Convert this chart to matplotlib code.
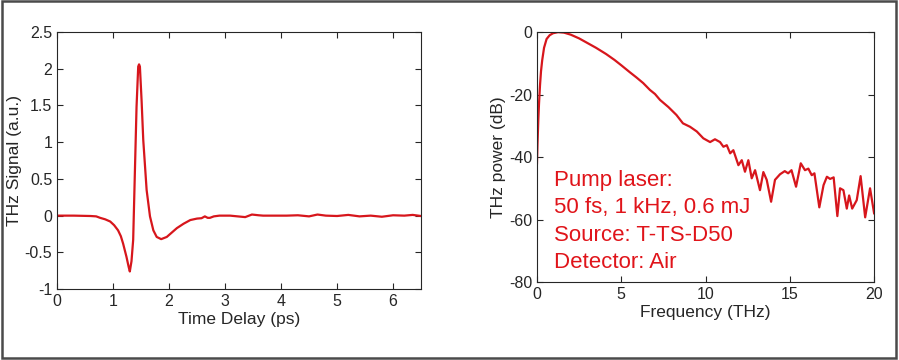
import matplotlib.pyplot as plt
from matplotlib.patches import Rectangle

plt.rcParams['font.family'] = ['Liberation Sans', 'DejaVu Sans']
plt.rcParams['axes.unicode_minus'] = False

# time-domain waveform
time_ps = [0, 0.3, 0.6, 0.7, 0.77, 0.86, 0.95, 1.02, 1.09, 1.14, 1.18, 1.24,
           1.28, 1.30, 1.33, 1.36, 1.39, 1.42, 1.45, 1.465, 1.48, 1.51, 1.54,
           1.60, 1.66, 1.72, 1.78, 1.86, 1.96, 2.05, 2.14, 2.26, 2.38, 2.5,
           2.58, 2.64, 2.69, 2.73, 2.8, 2.9, 3.09, 3.36, 3.48, 3.6, 3.68, 3.92,
           4.1, 4.3, 4.5, 4.65, 4.8, 5.0, 5.2, 5.4, 5.6, 5.8, 6.0, 6.2, 6.35, 6.5]
signal = [0, 0, -0.005, -0.01, -0.03, -0.05, -0.08, -0.13, -0.2, -0.28, -0.38,
          -0.56, -0.7, -0.76, -0.62, -0.33, 0.58, 1.48, 2.03, 2.06, 2.03, 1.57,
          1.03, 0.35, -0.01, -0.2, -0.29, -0.32, -0.29, -0.23, -0.17, -0.11,
          -0.06, -0.04, -0.035, -0.01, -0.03, -0.03, -0.01, 0, 0, -0.02, 0.015,
          0.005, 0, 0, 0, 0.005, -0.01, 0.015, 0, -0.005, 0.01, -0.01, 0,
          -0.015, 0.005, 0, 0.01, -0.005]

# spectrum
freq_thz = [0, 0.03, 0.08, 0.12, 0.18, 0.24, 0.31, 0.42, 0.57, 0.75, 0.95, 1.25,
            1.6, 2.0, 2.5, 3.0, 3.5, 4.1, 4.6, 5.0, 5.5, 5.9, 6.3, 6.7, 7.0, 7.3,
            7.8, 8.27, 8.66, 9.08, 9.48, 9.87, 10.07, 10.27, 10.56, 10.86, 11.06,
            11.26, 11.46, 11.65, 11.95, 12.15, 12.34, 12.54, 12.74, 12.94, 13.23,
            13.43, 13.63, 13.89, 14.12, 14.42, 14.7, 14.9, 15.1, 15.37, 15.65,
            15.9, 16.1, 16.3, 16.46, 16.75, 17.0, 17.2, 17.39, 17.6, 17.82, 17.98,
            18.18, 18.38, 18.52, 18.7, 18.97, 19.2, 19.47, 19.76, 20.0]
power_db = [-42, -36, -28, -23, -17, -12.5, -9, -5, -2.2, -1.0, -0.35, 0,
            -0.15, -0.8, -2.0, -3.5, -5.0, -7.0, -8.9, -10.6, -12.8, -14.5, -16.3,
            -18.5, -19.8, -21.7, -24, -26.5, -29.2, -30.3, -31.8, -34, -34.6,
            -35.2, -34.3, -35.2, -36.7, -36.2, -38.8, -37.8, -42.6, -41, -44.7,
            -41, -46.8, -44.2, -50.6, -44.8, -47.3, -54.3, -47.3, -45.5, -44.5,
            -45.2, -44.2, -49.5, -42, -44.2, -43.7, -45.8, -45.2, -56.1, -49,
            -46.3, -47, -46.5, -58.9, -50, -50.6, -56.5, -52.3, -56.5, -53.8,
            -46.1, -59.3, -50, -58]

notes = ['Pump laser:', '50 fs, 1 kHz, 0.6 mJ', 'Source: T-TS-D50', 'Detector: Air']

line_red = '#d7161c'
text_red = '#e0141a'
axis_gray = '#262626'

fig = plt.figure(figsize=(8.99, 3.6), dpi=100)
fig.patches.append(Rectangle((0.002, 0.006), 0.995, 0.99, transform=fig.transFigure,
                             fill=False, edgecolor='#4a4a4a', linewidth=1.8))

ax1 = fig.add_axes([0.0634, 0.197, 0.405, 0.714])
ax2 = fig.add_axes([0.5973, 0.2167, 0.375, 0.694])


def style(ax):
    for s in ax.spines.values():
        s.set_color(axis_gray)
        s.set_linewidth(0.8)
    ax.tick_params(direction='in', top=True, right=True, length=4, width=0.8,
                   colors=axis_gray, labelsize=11.5, labelcolor=axis_gray)


ax1.plot(time_ps, signal, color=line_red, linewidth=1.6)
ax1.set_xlim(0, 6.5)
ax1.set_ylim(-1, 2.5)
ax1.set_xticks([0, 1, 2, 3, 4, 5, 6])
ax1.set_yticks([-1, -0.5, 0, 0.5, 1, 1.5, 2, 2.5])
ax1.set_yticklabels(['-1', '-0.5', '0', '0.5', '1', '1.5', '2', '2.5'])
ax1.set_xlabel('Time Delay (ps)', fontsize=12.5, color=axis_gray, labelpad=2)
ax1.set_ylabel('THz Signal (a.u.)', fontsize=12.5, color=axis_gray, labelpad=2)
style(ax1)

ax2.plot(freq_thz, power_db, color=line_red, linewidth=1.6)
ax2.set_xlim(0, 20)
ax2.set_ylim(-80, 0)
ax2.set_xticks([0, 5, 10, 15, 20])
ax2.set_yticks([-80, -60, -40, -20, 0])
ax2.set_xlabel('Frequency (THz)', fontsize=12.5, color=axis_gray, labelpad=2)
ax2.set_ylabel('THz power (dB)', fontsize=12.5, color=axis_gray, labelpad=2)
style(ax2)

for i, line in enumerate(notes):
    ax2.text(0.05, 0.385 - i * 0.11, line, transform=ax2.transAxes, color=text_red,
             fontsize=16, va='baseline', ha='left')

fig.savefig('out.png', dpi=100)
